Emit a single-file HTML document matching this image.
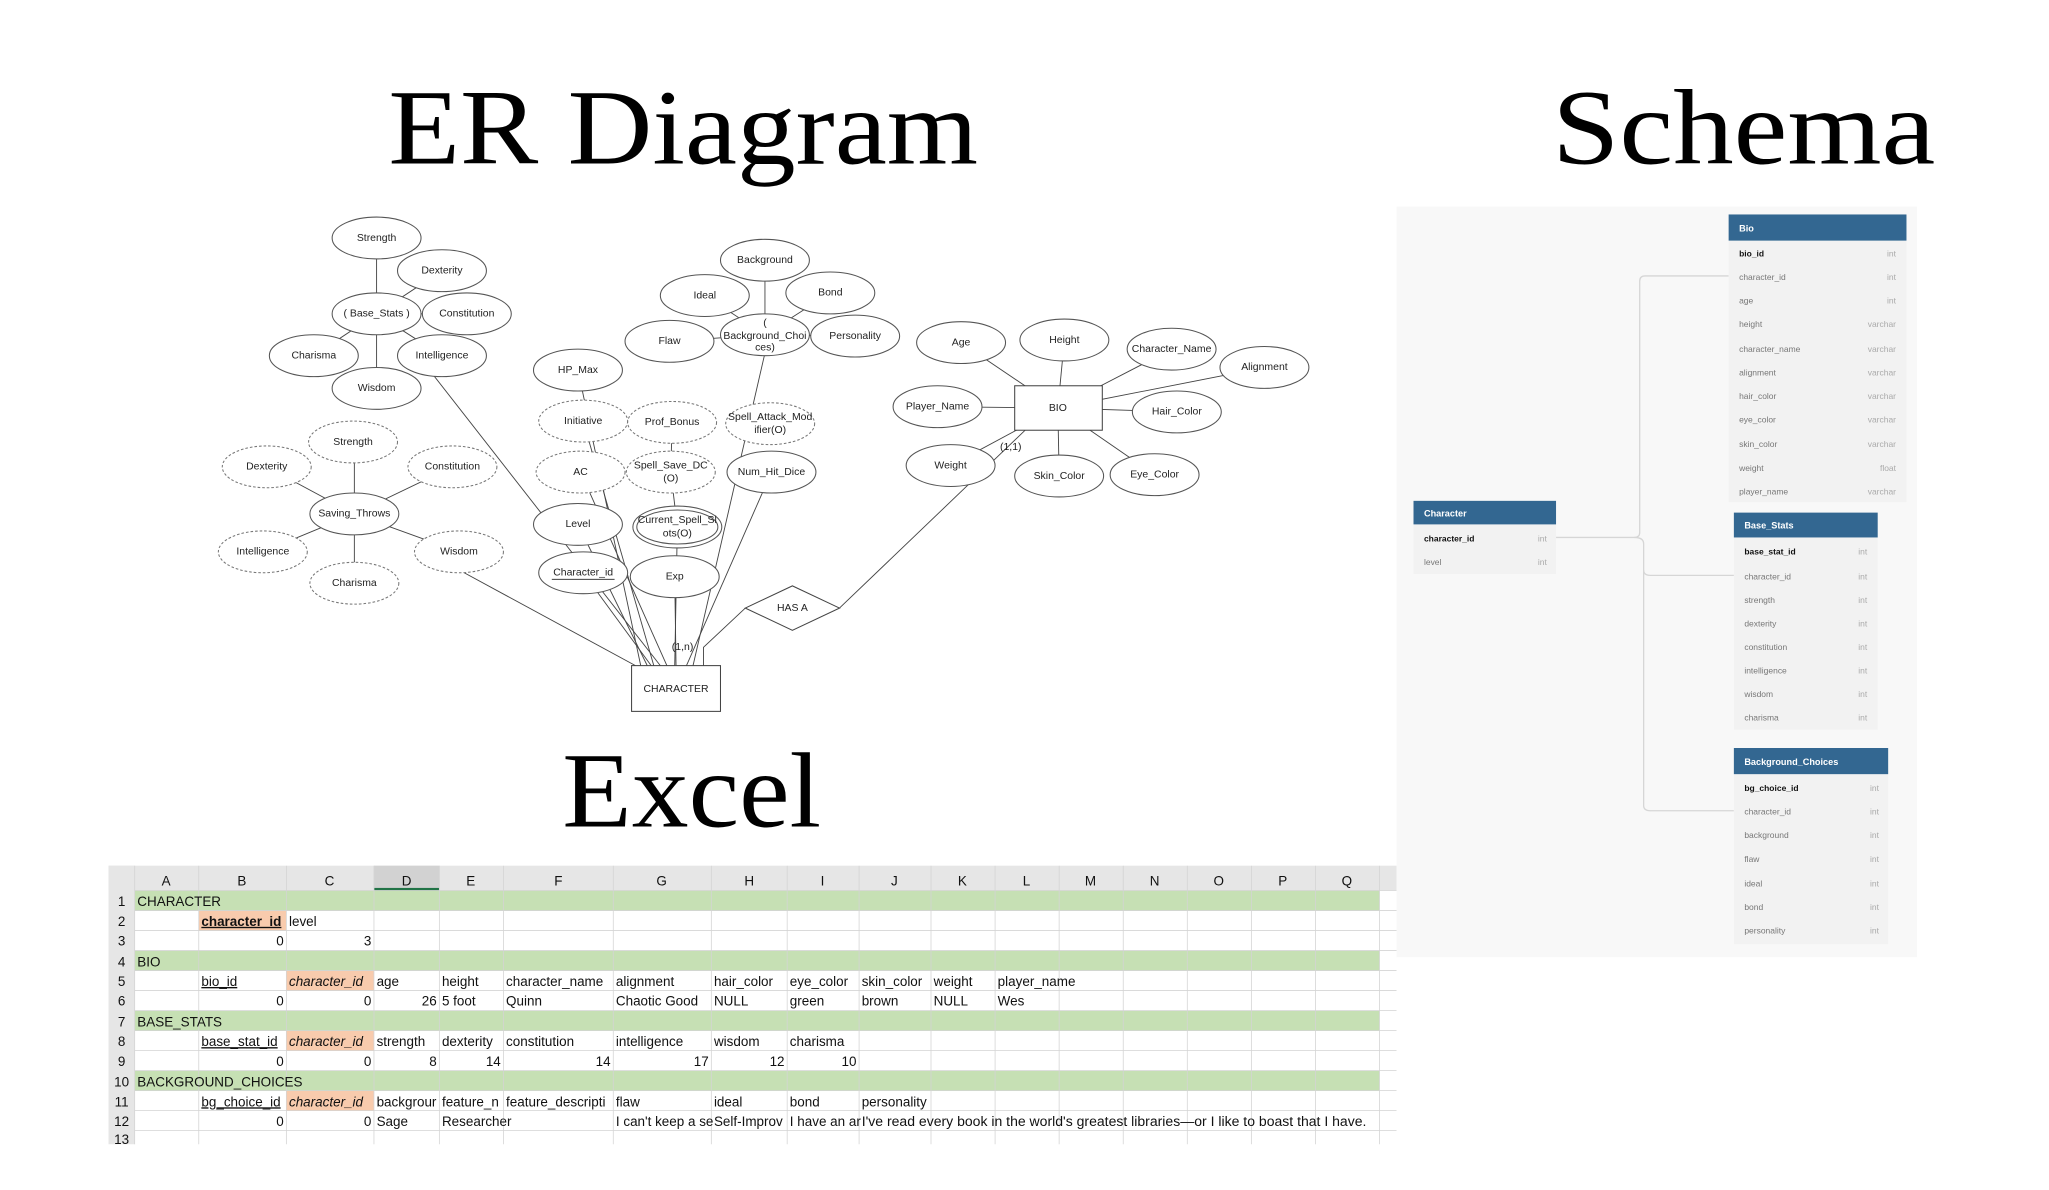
<!DOCTYPE html>
<html><head><meta charset="utf-8"><style>
html,body{margin:0;padding:0;background:#fff;}
svg{display:block;}
.e{fill:#fff;stroke:#555;stroke-width:0.8}
.d{fill:#fff;stroke:#777;stroke-width:0.8;stroke-dasharray:2,1.5}
.t{font-family:"Liberation Sans",sans-serif;font-size:8px;fill:#222;text-anchor:middle;dominant-baseline:middle}
.l{stroke:#444;stroke-width:0.7;fill:none}
.sh{font-family:"Liberation Sans",sans-serif;font-size:7px;fill:#fff;font-weight:bold}
.sr{font-family:"Liberation Sans",sans-serif;font-size:6.5px;fill:#777}
.sb{font-family:"Liberation Sans",sans-serif;font-size:6.5px;fill:#111;font-weight:bold}
.st{font-family:"Liberation Sans",sans-serif;font-size:6.5px;fill:#aaa;text-anchor:end}
.x{font-family:"Liberation Sans",sans-serif;font-size:10.3px;fill:#111}
.g{stroke:#d4d4d4;stroke-width:0.6}
</style></head><body>
<svg width="2049" height="1190" viewBox="0 0 1567 910" preserveAspectRatio="none" xmlns="http://www.w3.org/2000/svg">
<rect width="1567" height="910" fill="#fff"/>
<g font-family="Liberation Serif, serif" font-size="82" fill="#000">
<text x="297" y="125" textLength="451" lengthAdjust="spacingAndGlyphs">ER Diagram</text>
<text x="1187" y="125" textLength="293" lengthAdjust="spacingAndGlyphs">Schema</text>
<text x="430" y="632" textLength="198" lengthAdjust="spacingAndGlyphs">Excel</text>
</g>

<!-- ER lines -->
<g class="l">
<line x1="288" y1="182" x2="288" y2="297"/>
<line x1="288" y1="240" x2="338" y2="207"/><line x1="288" y1="240" x2="357" y2="240"/>
<line x1="288" y1="240" x2="240" y2="272"/><line x1="288" y1="240" x2="338" y2="272"/>
<line x1="330" y1="285" x2="505" y2="509"/>
<line x1="271" y1="338" x2="271" y2="446"/>
<line x1="271" y1="393" x2="204" y2="357"/><line x1="271" y1="393" x2="346" y2="357"/>
<line x1="271" y1="393" x2="201" y2="422"/><line x1="271" y1="393" x2="351" y2="422"/>
<line x1="355" y1="438" x2="486" y2="509"/>
<line x1="442" y1="283" x2="490" y2="509"/>
<line x1="446" y1="322" x2="500" y2="509"/>
<line x1="444" y1="361" x2="510" y2="509"/>
<line x1="514" y1="323" x2="513" y2="361"/>
<line x1="513" y1="361" x2="518" y2="403"/>
<line x1="442" y1="401" x2="495" y2="509"/>
<line x1="446" y1="438" x2="498" y2="509"/>
<line x1="518" y1="403" x2="516" y2="509"/>
<line x1="516" y1="441" x2="517" y2="509"/>
<line x1="590" y1="361" x2="525" y2="509"/>
<line x1="585" y1="270" x2="530" y2="509"/>
<line x1="585" y1="199" x2="585" y2="256"/>
<line x1="585" y1="256" x2="539" y2="226"/><line x1="585" y1="256" x2="635" y2="224"/>
<line x1="585" y1="256" x2="512" y2="261"/><line x1="585" y1="256" x2="654" y2="257"/>
<polyline points="538,509 538,495 570,465"/>
<polyline points="642,465 784,329"/>
<line x1="809" y1="312" x2="735" y2="262"/><line x1="809" y1="312" x2="814" y2="260"/>
<line x1="809" y1="312" x2="896" y2="267"/><line x1="809" y1="312" x2="967" y2="281"/>
<line x1="809" y1="312" x2="717" y2="311"/><line x1="809" y1="312" x2="900" y2="315"/>
<line x1="809" y1="312" x2="727" y2="356"/><line x1="809" y1="312" x2="810" y2="364"/>
<line x1="809" y1="312" x2="883" y2="363"/>
</g>
<g>
<ellipse class="e" cx="288" cy="182" rx="34" ry="16"/><text class="t" x="288" y="182">Strength</text>
<ellipse class="e" cx="338" cy="207" rx="34" ry="16"/><text class="t" x="338" y="207">Dexterity</text>
<ellipse class="e" cx="288" cy="240" rx="34" ry="16"/><text class="t" x="288" y="240">( Base_Stats )</text>
<ellipse class="e" cx="357" cy="240" rx="34" ry="16"/><text class="t" x="357" y="240">Constitution</text>
<ellipse class="e" cx="240" cy="272" rx="34" ry="16"/><text class="t" x="240" y="272">Charisma</text>
<ellipse class="e" cx="338" cy="272" rx="34" ry="16"/><text class="t" x="338" y="272">Intelligence</text>
<ellipse class="e" cx="288" cy="297" rx="34" ry="16"/><text class="t" x="288" y="297">Wisdom</text>

<ellipse class="d" cx="270" cy="338" rx="34" ry="16"/><text class="t" x="270" y="338">Strength</text>
<ellipse class="d" cx="204" cy="357" rx="34" ry="16"/><text class="t" x="204" y="357">Dexterity</text>
<ellipse class="d" cx="346" cy="357" rx="34" ry="16"/><text class="t" x="346" y="357">Constitution</text>
<ellipse class="e" cx="271" cy="393" rx="34" ry="16"/><text class="t" x="271" y="393">Saving_Throws</text>
<ellipse class="d" cx="201" cy="422" rx="34" ry="16"/><text class="t" x="201" y="422">Intelligence</text>
<ellipse class="d" cx="351" cy="422" rx="34" ry="16"/><text class="t" x="351" y="422">Wisdom</text>
<ellipse class="d" cx="271" cy="446" rx="34" ry="16"/><text class="t" x="271" y="446">Charisma</text>

<ellipse class="e" cx="442" cy="283" rx="34" ry="16"/><text class="t" x="442" y="283">HP_Max</text>
<ellipse class="d" cx="446" cy="322" rx="34" ry="16"/><text class="t" x="446" y="322">Initiative</text>
<ellipse class="d" cx="514" cy="323" rx="34" ry="16"/><text class="t" x="514" y="323">Prof_Bonus</text>
<ellipse class="d" cx="589" cy="324" rx="34" ry="16"/><text class="t" x="589" y="319">Spell_Attack_Mod</text><text class="t" x="589" y="329">ifier(O)</text>
<ellipse class="d" cx="444" cy="361" rx="34" ry="16"/><text class="t" x="444" y="361">AC</text>
<ellipse class="d" cx="513" cy="361" rx="34" ry="16"/><text class="t" x="513" y="356">Spell_Save_DC</text><text class="t" x="513" y="366">(O)</text>
<ellipse class="e" cx="590" cy="361" rx="34" ry="16"/><text class="t" x="590" y="361">Num_Hit_Dice</text>
<ellipse class="e" cx="442" cy="401" rx="34" ry="16"/><text class="t" x="442" y="401">Level</text>
<ellipse class="e" cx="518" cy="403" rx="34" ry="16"/><ellipse class="e" cx="518" cy="403" rx="31" ry="13"/><text class="t" x="518" y="398">Current_Spell_Sl</text><text class="t" x="518" y="408">ots(O)</text>
<ellipse class="e" cx="446" cy="438" rx="34" ry="16"/><text class="t" x="446" y="438">Character_id</text>
<line x1="422" y1="443" x2="470" y2="443" stroke="#222" stroke-width="0.7"/>
<ellipse class="e" cx="516" cy="441" rx="34" ry="16"/><text class="t" x="516" y="441">Exp</text>

<ellipse class="e" cx="585" cy="199" rx="34" ry="16"/><text class="t" x="585" y="199">Background</text>
<ellipse class="e" cx="539" cy="226" rx="34" ry="16"/><text class="t" x="539" y="226">Ideal</text>
<ellipse class="e" cx="635" cy="224" rx="34" ry="16"/><text class="t" x="635" y="224">Bond</text>
<ellipse class="e" cx="512" cy="261" rx="34" ry="16"/><text class="t" x="512" y="261">Flaw</text>
<ellipse class="e" cx="654" cy="257" rx="34" ry="16"/><text class="t" x="654" y="257">Personality</text>
<ellipse class="e" cx="585" cy="256" rx="34" ry="16"/><text class="t" x="585" y="247">(</text><text class="t" x="585" y="257">Background_Choi</text><text class="t" x="585" y="266">ces)</text>

<ellipse class="e" cx="735" cy="262" rx="34" ry="16"/><text class="t" x="735" y="262">Age</text>
<ellipse class="e" cx="814" cy="260" rx="34" ry="16"/><text class="t" x="814" y="260">Height</text>
<ellipse class="e" cx="896" cy="267" rx="34" ry="16"/><text class="t" x="896" y="267">Character_Name</text>
<ellipse class="e" cx="967" cy="281" rx="34" ry="16"/><text class="t" x="967" y="281">Alignment</text>
<ellipse class="e" cx="717" cy="311" rx="34" ry="16"/><text class="t" x="717" y="311">Player_Name</text>
<ellipse class="e" cx="900" cy="315" rx="34" ry="16"/><text class="t" x="900" y="315">Hair_Color</text>
<ellipse class="e" cx="727" cy="356" rx="34" ry="16"/><text class="t" x="727" y="356">Weight</text>
<ellipse class="e" cx="810" cy="364" rx="34" ry="16"/><text class="t" x="810" y="364">Skin_Color</text>
<ellipse class="e" cx="883" cy="363" rx="34" ry="16"/><text class="t" x="883" y="363">Eye_Color</text>

<rect x="776" y="295" width="67" height="34" fill="#fff" stroke="#444" stroke-width="0.8"/><text class="t" x="809" y="312">BIO</text>
<rect x="483" y="509" width="68" height="35" fill="#fff" stroke="#444" stroke-width="0.8"/><text class="t" x="517" y="527">CHARACTER</text>
<polygon points="570,465 606,448 642,465 606,482" fill="#fff" stroke="#444" stroke-width="0.8"/><text class="t" x="606" y="465">HAS A</text>
<text class="t" x="773" y="342">(1,1)</text>
<text class="t" x="522" y="495">(1,n)</text>
</g>

<!-- Schema -->
<rect x="1068" y="158" width="398" height="574" fill="#f8f8f8"/>
<g fill="none" stroke="#d6d6d6" stroke-width="1">
<path d="M1190,411 H1250 Q1254,411 1254,407 V215 Q1254,211 1258,211 H1322"/>
<path d="M1250,411 Q1257,411 1257,416 V436 Q1257,440 1262,440 H1326"/>
<path d="M1257,436 V616 Q1257,620 1262,620 H1326"/>
</g>
<g>
<rect x="1322" y="184" width="136" height="200" fill="#f2f2f2"/>
<rect x="1322" y="164" width="136" height="20" fill="#336791"/><text class="sh" x="1330" y="177">Bio</text>
<text class="sb" x="1330" y="196">bio_id</text><text class="st" x="1450" y="196">int</text>
<text class="sr" x="1330" y="214">character_id</text><text class="st" x="1450" y="214">int</text>
<text class="sr" x="1330" y="232">age</text><text class="st" x="1450" y="232">int</text>
<text class="sr" x="1330" y="250">height</text><text class="st" x="1450" y="250">varchar</text>
<text class="sr" x="1330" y="269">character_name</text><text class="st" x="1450" y="269">varchar</text>
<text class="sr" x="1330" y="287">alignment</text><text class="st" x="1450" y="287">varchar</text>
<text class="sr" x="1330" y="305">hair_color</text><text class="st" x="1450" y="305">varchar</text>
<text class="sr" x="1330" y="323">eye_color</text><text class="st" x="1450" y="323">varchar</text>
<text class="sr" x="1330" y="342">skin_color</text><text class="st" x="1450" y="342">varchar</text>
<text class="sr" x="1330" y="360">weight</text><text class="st" x="1450" y="360">float</text>
<text class="sr" x="1330" y="378">player_name</text><text class="st" x="1450" y="378">varchar</text>

<rect x="1081" y="401" width="109" height="38" fill="#f2f2f2"/>
<rect x="1081" y="383" width="109" height="18" fill="#336791"/><text class="sh" x="1089" y="395">Character</text>
<text class="sb" x="1089" y="414">character_id</text><text class="st" x="1183" y="414">int</text>
<text class="sr" x="1089" y="432">level</text><text class="st" x="1183" y="432">int</text>

<rect x="1326" y="411" width="110" height="147" fill="#f2f2f2"/>
<rect x="1326" y="392" width="110" height="19" fill="#336791"/><text class="sh" x="1334" y="404">Base_Stats</text>
<text class="sb" x="1334" y="424">base_stat_id</text><text class="st" x="1428" y="424">int</text>
<text class="sr" x="1334" y="443">character_id</text><text class="st" x="1428" y="443">int</text>
<text class="sr" x="1334" y="461">strength</text><text class="st" x="1428" y="461">int</text>
<text class="sr" x="1334" y="479">dexterity</text><text class="st" x="1428" y="479">int</text>
<text class="sr" x="1334" y="497">constitution</text><text class="st" x="1428" y="497">int</text>
<text class="sr" x="1334" y="515">intelligence</text><text class="st" x="1428" y="515">int</text>
<text class="sr" x="1334" y="533">wisdom</text><text class="st" x="1428" y="533">int</text>
<text class="sr" x="1334" y="551">charisma</text><text class="st" x="1428" y="551">int</text>

<rect x="1326" y="592" width="118" height="130" fill="#f2f2f2"/>
<rect x="1326" y="572" width="118" height="20" fill="#336791"/><text class="sh" x="1334" y="585">Background_Choices</text>
<text class="sb" x="1334" y="605">bg_choice_id</text><text class="st" x="1437" y="605">int</text>
<text class="sr" x="1334" y="623">character_id</text><text class="st" x="1437" y="623">int</text>
<text class="sr" x="1334" y="641">background</text><text class="st" x="1437" y="641">int</text>
<text class="sr" x="1334" y="659">flaw</text><text class="st" x="1437" y="659">int</text>
<text class="sr" x="1334" y="678">ideal</text><text class="st" x="1437" y="678">int</text>
<text class="sr" x="1334" y="696">bond</text><text class="st" x="1437" y="696">int</text>
<text class="sr" x="1334" y="714">personality</text><text class="st" x="1437" y="714">int</text>
</g>

<!-- Excel -->
<g>
<rect x="83" y="662" width="985" height="213" fill="#fff"/>
<rect x="83" y="662" width="985" height="19" fill="#e6e6e6"/>
<rect x="83" y="662" width="20" height="213" fill="#e6e6e6"/>
<rect x="286" y="662" width="50" height="19" fill="#d2d2d2"/>
<rect x="286" y="679" width="50" height="2" fill="#217346"/>
<g fill="#c6e0b4">
<rect x="103" y="681" width="952" height="15.3"/>
<rect x="103" y="727" width="952" height="15.3"/>
<rect x="103" y="773" width="952" height="15.3"/>
<rect x="103" y="819" width="952" height="15.3"/>
</g>
<g fill="#f8cbad">
<rect x="152" y="696.3" width="67" height="15.3"/>
<rect x="219" y="742.2" width="67" height="15.3"/>
<rect x="219" y="788.1" width="67" height="15.3"/>
<rect x="219" y="834" width="67" height="15.3"/>
</g>
<g class="g">
<line x1="103" y1="681" x2="1068" y2="681"/><line x1="103" y1="696.3" x2="1068" y2="696.3"/>
<line x1="103" y1="711.6" x2="1068" y2="711.6"/><line x1="103" y1="726.9" x2="1068" y2="726.9"/>
<line x1="103" y1="742.2" x2="1068" y2="742.2"/><line x1="103" y1="757.5" x2="1068" y2="757.5"/>
<line x1="103" y1="772.8" x2="1068" y2="772.8"/><line x1="103" y1="788.1" x2="1068" y2="788.1"/>
<line x1="103" y1="803.4" x2="1068" y2="803.4"/><line x1="103" y1="818.7" x2="1068" y2="818.7"/>
<line x1="103" y1="834" x2="1068" y2="834"/><line x1="103" y1="849.3" x2="1068" y2="849.3"/>
<line x1="103" y1="864.6" x2="1068" y2="864.6"/>
<line x1="103" y1="662" x2="103" y2="875"/><line x1="152" y1="662" x2="152" y2="875"/>
<line x1="219" y1="662" x2="219" y2="875"/><line x1="286" y1="662" x2="286" y2="875"/>
<line x1="336" y1="662" x2="336" y2="875"/><line x1="385" y1="662" x2="385" y2="875"/>
<line x1="469" y1="662" x2="469" y2="875"/><line x1="544" y1="662" x2="544" y2="875"/>
<line x1="602" y1="662" x2="602" y2="875"/><line x1="657" y1="662" x2="657" y2="875"/>
<line x1="712" y1="662" x2="712" y2="875"/><line x1="761" y1="662" x2="761" y2="875"/>
<line x1="810" y1="662" x2="810" y2="875"/><line x1="859" y1="662" x2="859" y2="875"/>
<line x1="908" y1="662" x2="908" y2="875"/><line x1="957" y1="662" x2="957" y2="875"/>
<line x1="1006" y1="662" x2="1006" y2="875"/><line x1="1055" y1="662" x2="1055" y2="875"/>
</g>
<g class="x" text-anchor="middle" fill="#333">
<text x="127" y="677">A</text><text x="185" y="677">B</text><text x="252" y="677">C</text><text x="311" y="677">D</text>
<text x="360" y="677">E</text><text x="427" y="677">F</text><text x="506" y="677">G</text><text x="573" y="677">H</text>
<text x="629" y="677">I</text><text x="684" y="677">J</text><text x="736" y="677">K</text><text x="785" y="677">L</text>
<text x="834" y="677">M</text><text x="883" y="677">N</text><text x="932" y="677">O</text><text x="981" y="677">P</text><text x="1030" y="677">Q</text>
<text x="93" y="693">1</text><text x="93" y="708">2</text><text x="93" y="723">3</text><text x="93" y="739">4</text>
<text x="93" y="754">5</text><text x="93" y="769">6</text><text x="93" y="785">7</text><text x="93" y="800">8</text>
<text x="93" y="815">9</text><text x="93" y="831">10</text><text x="93" y="846">11</text><text x="93" y="861">12</text><text x="93" y="875">13</text>
</g>
<g class="x">
<text x="105" y="693">CHARACTER</text>
<text x="154" y="708" font-weight="bold" text-decoration="underline">character_id</text><text x="221" y="708">level</text>
<text x="217" y="723" text-anchor="end">0</text><text x="284" y="723" text-anchor="end">3</text>
<text x="105" y="739">BIO</text>
<text x="154" y="754" text-decoration="underline">bio_id</text><text x="221" y="754" font-style="italic">character_id</text>
<text x="288" y="754">age</text><text x="338" y="754">height</text><text x="387" y="754">character_name</text><text x="471" y="754">alignment</text>
<text x="546" y="754">hair_color</text><text x="604" y="754">eye_color</text><text x="659" y="754">skin_color</text><text x="714" y="754">weight</text><text x="763" y="754">player_name</text>
<text x="217" y="769" text-anchor="end">0</text><text x="284" y="769" text-anchor="end">0</text><text x="334" y="769" text-anchor="end">26</text>
<text x="338" y="769">5 foot</text><text x="387" y="769">Quinn</text><text x="471" y="769">Chaotic Good</text><text x="546" y="769">NULL</text>
<text x="604" y="769">green</text><text x="659" y="769">brown</text><text x="714" y="769">NULL</text><text x="763" y="769">Wes</text>
<text x="105" y="785">BASE_STATS</text>
<text x="154" y="800" text-decoration="underline">base_stat_id</text><text x="221" y="800" font-style="italic">character_id</text>
<text x="288" y="800">strength</text><text x="338" y="800">dexterity</text><text x="387" y="800">constitution</text>
<text x="471" y="800">intelligence</text><text x="546" y="800">wisdom</text><text x="604" y="800">charisma</text>
<text x="217" y="815" text-anchor="end">0</text><text x="284" y="815" text-anchor="end">0</text><text x="334" y="815" text-anchor="end">8</text>
<text x="383" y="815" text-anchor="end">14</text><text x="467" y="815" text-anchor="end">14</text><text x="542" y="815" text-anchor="end">17</text>
<text x="600" y="815" text-anchor="end">12</text><text x="655" y="815" text-anchor="end">10</text>
<text x="105" y="831">BACKGROUND_CHOICES</text>
<text x="154" y="846" text-decoration="underline">bg_choice_id</text><text x="221" y="846" font-style="italic">character_id</text>
<text x="288" y="846">backgrour</text><text x="338" y="846">feature_n</text><text x="387" y="846">feature_descripti</text>
<text x="471" y="846">flaw</text><text x="546" y="846">ideal</text><text x="604" y="846">bond</text><text x="659" y="846">personality</text>
<text x="217" y="861" text-anchor="end">0</text><text x="284" y="861" text-anchor="end">0</text>
<text x="288" y="861">Sage</text><text x="338" y="861">Researcher</text>
<text x="471" y="861">I can't keep a se</text><text x="546" y="861">Self-Improv</text><text x="604" y="861">I have an ar</text>
<text x="659" y="861" textLength="386" lengthAdjust="spacingAndGlyphs">I've read every book in the world's greatest libraries—or I like to boast that I have.</text>
</g>
</g>
</svg>
</body></html>
